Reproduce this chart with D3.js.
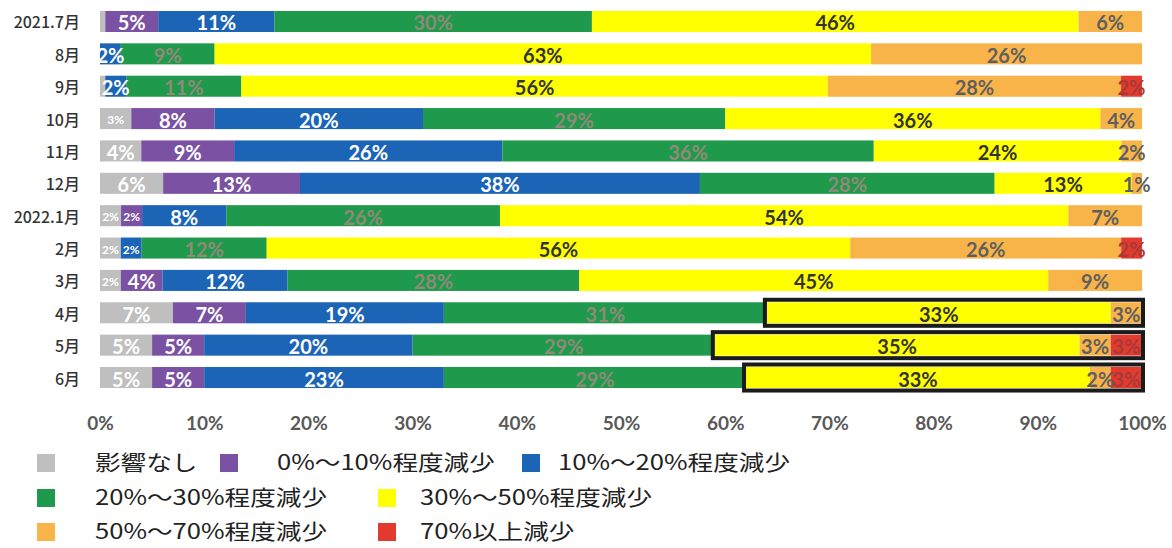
<!DOCTYPE html>
<html>
<head>
<meta charset="utf-8">
<script src="https://cdn.jsdelivr.net/npm/d3@7"></script>
<style>
  html, body { margin: 0; padding: 0; background: #fff; }
  svg { display: block; }
</style>
</head>
<body>
<svg id="chart" width="1172" height="548"></svg>
<script>
// Monthly survey: share of respondents by size of sales decrease
const months = ["2021.7月", "8月", "9月", "10月", "11月", "12月", "2022.1月", "2月", "3月", "4月", "5月", "6月"];

const noImpact   = [0.5, 0, 0.5, 3, 4, 6, 2, 2, 2, 7, 5, 5];
const down0to10  = [5, 0, 0, 8, 9, 13, 2, 0, 4, 7, 5, 5];
const down10to20 = [11, 2, 2, 20, 26, 38, 8, 2, 12, 19, 20, 23];
const down20to30 = [30, 9, 11, 29, 36, 28, 26, 12, 28, 31, 29, 29];
const down30to50 = [46, 63, 56, 36, 24, 13, 54, 56, 45, 33, 35, 33];
const down50to70 = [6, 26, 28, 4, 2, 1, 7, 26, 9, 3, 3, 2];
const down70plus = [0, 0, 2, 0, 0, 0, 0, 2, 0, 0, 3, 3];

const seriesNames = ["影響なし", "0%～10%程度減少", "10%～20%程度減少", "20%～30%程度減少",
                     "30%～50%程度減少", "50%～70%程度減少", "70%以上減少"];
const seriesValues = [noImpact, down0to10, down10to20, down20to30, down30to50, down50to70, down70plus];

const tickValues = [0, 0.1, 0.2, 0.3, 0.4, 0.5, 0.6, 0.7, 0.8, 0.9, 1];
const tickLabels = ["0%", "10%", "20%", "30%", "40%", "50%", "60%", "70%", "80%", "90%", "100%"];

// months whose 30%+ decrease share is outlined
const outlinedMonths = ["4月", "5月", "6月"];

// ---- styling ----
const colors = ["#bfbfbf", "#7b52a3", "#1c64b6", "#1f994b", "#ffff00", "#f8b449", "#e33a30"];
const labelColors = ["#ffffff", "#ffffff", "#ffffff", "#8f8a78", "#333333", "#5f5f5f", "#a83a36"];
// labels set in a smaller face because their segments are narrow
const smallLabels = new Set(["10月|0", "2022.1月|0", "2022.1月|1", "2月|0", "2月|2", "3月|0"]);

const svg = d3.select("#chart");

const rows = months.map((m, i) => {
  const o = { month: m };
  seriesValues.forEach((arr, k) => { o[k] = arr[i]; });
  return o;
});
const keys = seriesValues.map((_, k) => k);

const stacked = d3.stack().keys(keys).offset(d3.stackOffsetExpand)(rows);

const x = d3.scaleLinear().domain([0, 1]).range([100, 1142]);
const y = d3.scaleBand().domain(months).range([5.3, 393.7]).paddingInner(0.35).paddingOuter(0.175);

// bars
const layers = svg.append("g").selectAll("g")
  .data(stacked)
  .join("g")
  .attr("fill", d => colors[d.key]);

layers.selectAll("rect")
  .data(d => d.map(p => ({ p, key: d.key })))
  .join("rect")
  .attr("x", d => x(d.p[0]))
  .attr("y", d => y(d.p.data.month))
  .attr("width", d => Math.max(0, x(d.p[1]) - x(d.p[0])))
  .attr("height", y.bandwidth());

// outlines around the 30%+ portion of recent months
const boxG = svg.append("g");
outlinedMonths.forEach(m => {
  const seg = stacked[4].find(p => p.data.month === m);
  const x0 = x(seg[0]) - 2;
  const x1 = x(1) + 1;
  boxG.append("rect")
    .attr("x", x0)
    .attr("y", y(m) - 2.5)
    .attr("width", x1 - x0)
    .attr("height", y.bandwidth() + 5)
    .attr("fill", "none")
    .attr("stroke", "#1b1b1b")
    .attr("stroke-width", 4);
});

// value labels
const labelG = svg.append("g")
  .attr("font-family", "Lato, 'Open Sans', sans-serif")
  .attr("font-weight", 700)
  .attr("text-anchor", "middle");

stacked.forEach(layer => {
  layer.forEach(p => {
    const v = p.data[layer.key];
    if (v < 1) return;
    const small = smallLabels.has(p.data.month + "|" + layer.key);
    labelG.append("text")
      .attr("x", (x(p[0]) + x(p[1])) / 2)
      .attr("y", y(p.data.month) + y.bandwidth() / 2 + 1)
      .attr("dominant-baseline", "central")
      .attr("font-size", small ? 12 : 20)
      .attr("fill", labelColors[layer.key])
      .text(v + "%");
  });
});

// month labels
svg.append("g")
  .attr("font-family", "'Noto Sans CJK JP', sans-serif")
  .attr("font-size", 16)
  .attr("font-weight", 500)
  .attr("fill", "#333")
  .attr("text-anchor", "end")
  .selectAll("text")
  .data(months)
  .join("text")
  .attr("x", 80)
  .attr("y", m => y(m) + y.bandwidth() / 2)
  .attr("dominant-baseline", "central")
  .text(m => m);

// percentage axis
const axis = d3.axisBottom(x)
  .tickValues(tickValues)
  .tickFormat((d, i) => tickLabels[i])
  .tickSize(0)
  .tickPadding(0);

const axisG = svg.append("g")
  .attr("transform", "translate(0,416)")
  .call(axis);
axisG.select(".domain").remove();
axisG.selectAll("text")
  .attr("font-family", "Lato, 'Open Sans', sans-serif")
  .attr("font-size", 19)
  .attr("font-weight", 700)
  .attr("fill", "#595959");

// legend
const legendPos = [
  { sx: 37, tx: 95, cy: 463 },
  { sx: 220, tx: 277, cy: 463 },
  { sx: 522, tx: 558, cy: 463 },
  { sx: 37, tx: 95, cy: 498 },
  { sx: 378, tx: 420, cy: 498 },
  { sx: 37, tx: 95, cy: 532 },
  { sx: 378, tx: 420, cy: 532 }
];

const legend = svg.append("g");
seriesNames.forEach((name, k) => {
  const pos = legendPos[k];
  legend.append("rect")
    .attr("x", pos.sx)
    .attr("y", pos.cy - 9)
    .attr("width", 18)
    .attr("height", 18)
    .attr("fill", colors[k]);
  legend.append("text")
    .attr("transform", `translate(${pos.tx},${pos.cy + 7}) scale(1.22,1)`)
    .attr("font-family", "'Noto Sans CJK JP', sans-serif")
    .attr("font-size", 21)
    .attr("fill", "#222")
    .text(name);
});
</script>
</body>
</html>
